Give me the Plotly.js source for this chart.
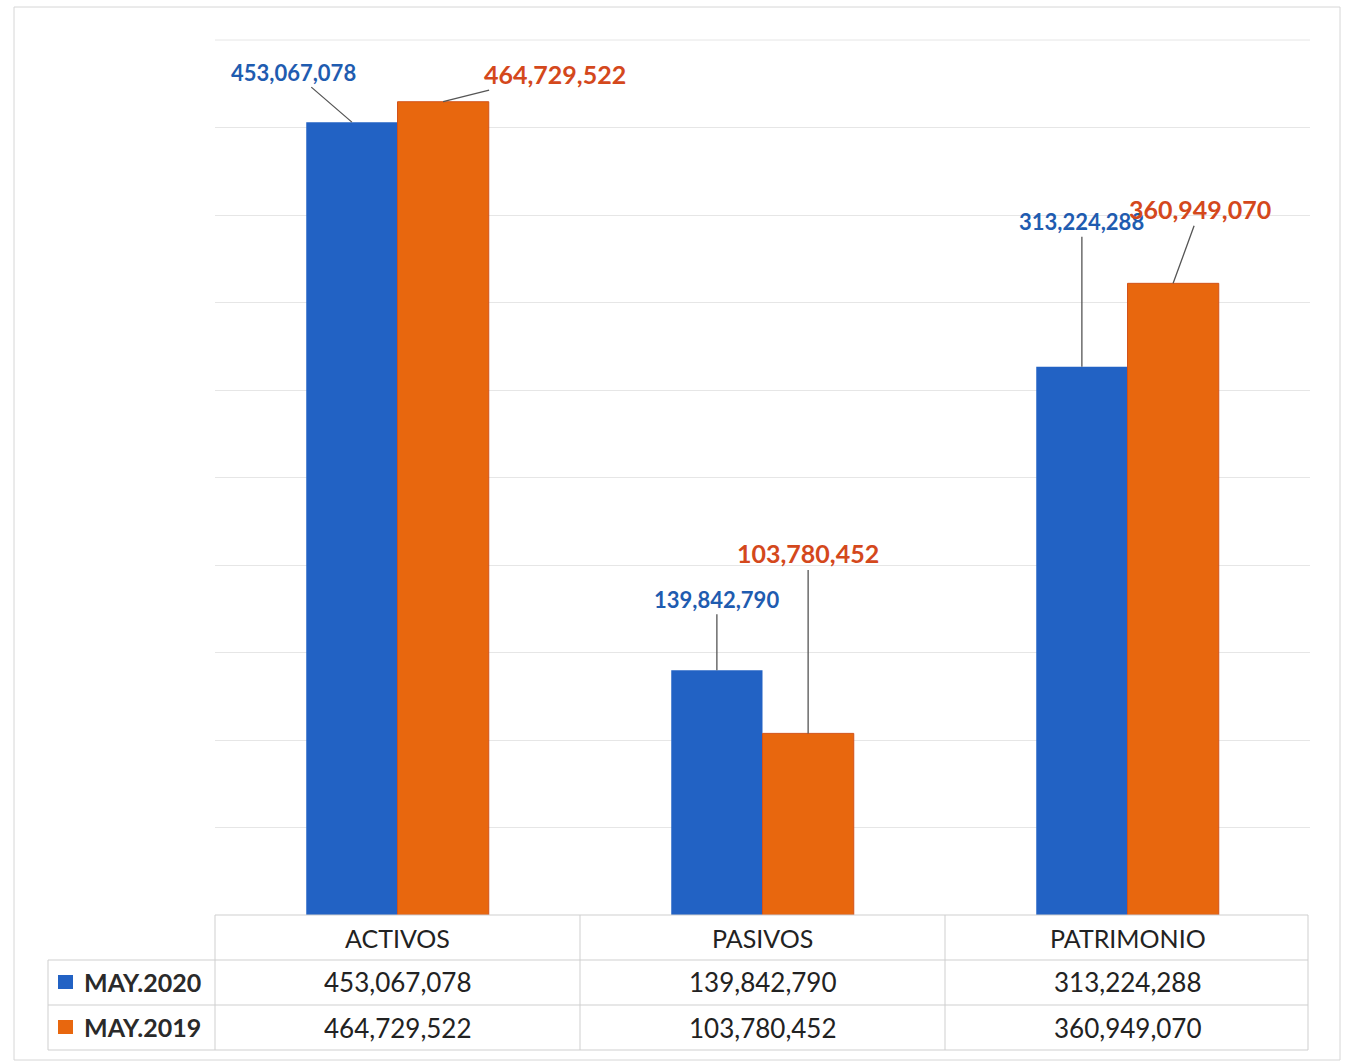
<!DOCTYPE html>
<html><head><meta charset="utf-8">
<script src="https://cdn.plot.ly/plotly-3.0.1.min.js"></script>
<style>html,body{margin:0;padding:0;background:#fff}</style>
</head><body><div id="chart" style="width:1348px;height:1061px"></div>
<script>
const categories = ["ACTIVOS", "PASIVOS", "PATRIMONIO"];
const seriesNames = ["MAY.2020", "MAY.2019"];
const may2020 = [453067078, 139842790, 313224288];
const may2019 = [464729522, 103780452, 360949070];

const blue = "#2262c4", orange = "#e8670e";
const blueText = "#1f5cb0", orangeText = "#d4481c";
const FONT = "Lato, 'Open Sans', sans-serif";

const W = 1348, H = 1061, L = 215, R = 38, T = 40, B = 146;
const PW = W - L - R, PH = H - T - B;
const px = x => (x - L) / PW;
const py = y => (H - B - y) / PH;
const fmt = v => v.toLocaleString("en-US");

const traces = [
  {type: "bar", name: seriesNames[0], x: categories, y: may2020, marker: {color: blue}, hoverinfo: "none"},
  {type: "bar", name: seriesNames[1], x: categories, y: may2019, marker: {color: orange, line: {color: "#d2521a", width: 1}}, hoverinfo: "none"}
];

// label offsets (pixels) for the data labels with leader lines
const offs2020 = [[-58, -50], [0, -71], [0, -145]];
const offs2019 = [[112, -28], [0, -180], [27, -74]];

const annotations = [];
categories.forEach((c, i) => {
  annotations.push({xref: "x", yref: "y", x: i - 0.125, y: may2020[i], text: "<b>" + fmt(may2020[i]) + "</b>",
    showarrow: true, arrowhead: 0, arrowwidth: 1.3, arrowcolor: "#555", ax: offs2020[i][0], ay: offs2020[i][1],
    standoff: 0, font: {family: FONT, size: 22, color: blueText}});
  annotations.push({xref: "x", yref: "y", x: i + 0.125, y: may2019[i], text: "<b>" + fmt(may2019[i]) + "</b>",
    showarrow: true, arrowhead: 0, arrowwidth: 1.3, arrowcolor: "#555", ax: offs2019[i][0], ay: offs2019[i][1],
    standoff: 0, font: {family: FONT, size: 25, color: orangeText}});
  // table
  annotations.push({xref: "x", yref: "paper", x: i, y: py(938), xanchor: "center", yanchor: "middle", text: c, showarrow: false,
    font: {family: FONT, size: 25, color: "#222"}});
  annotations.push({xref: "x", yref: "paper", x: i, y: py(982), xanchor: "center", yanchor: "middle", text: fmt(may2020[i]), showarrow: false,
    font: {family: FONT, size: 26, color: "#222"}});
  annotations.push({xref: "x", yref: "paper", x: i, y: py(1028), xanchor: "center", yanchor: "middle", text: fmt(may2019[i]), showarrow: false,
    font: {family: FONT, size: 26, color: "#222"}});
});
annotations.push({xref: "paper", yref: "paper", x: px(82), y: py(982), xanchor: "left", yanchor: "middle", text: "<b>" + seriesNames[0] + "</b>",
  showarrow: false, font: {family: FONT, size: 25, color: "#2a2a2a"}});
annotations.push({xref: "paper", yref: "paper", x: px(82), y: py(1027), xanchor: "left", yanchor: "middle", text: "<b>" + seriesNames[1] + "</b>",
  showarrow: false, font: {family: FONT, size: 25, color: "#2a2a2a"}});

const lc = "#cfcfcf";
const line = (x0, y0, x1, y1, color, w) => ({type: "line", xref: "paper", yref: "paper",
  x0: px(x0), y0: py(y0), x1: px(x1), y1: py(y1), line: {color: color || lc, width: w || 1}});
const shapes = [
  // outer border
  {type: "rect", xref: "paper", yref: "paper", x0: px(14), y0: py(7), x1: px(1340), y1: py(1060), line: {color: "#d6d6d6", width: 1}},
  // top gridline (range maximum)
  {type: "line", xref: "paper", yref: "paper", x0: 0, x1: 1, y0: 1, y1: 1, line: {color: "#e6e6e6", width: 1}},
  line(215, 915, 1308, 915),
  line(48, 960, 1308, 960),
  line(48, 1005, 1308, 1005),
  line(48, 1050, 1308, 1050),
  line(48, 960, 48, 1050),
  line(215, 915, 215, 1050),
  line(580, 915, 580, 1050),
  line(945, 915, 945, 1050),
  line(1308, 915, 1308, 1050),
  {type: "rect", xref: "paper", yref: "paper", x0: px(58), y0: py(975), x1: px(73), y1: py(989), fillcolor: blue, line: {width: 0}},
  {type: "rect", xref: "paper", yref: "paper", x0: px(58), y0: py(1020), x1: px(73), y1: py(1034), fillcolor: orange, line: {width: 0}}
];

const layout = {
  width: W, height: H,
  margin: {l: L, r: R, t: T, b: B},
  paper_bgcolor: "#fff", plot_bgcolor: "#fff",
  barmode: "group", bargap: 0.5, bargroupgap: 0,
  showlegend: false,
  xaxis: {type: "category", showticklabels: false, showgrid: false, zeroline: false, showline: false, ticks: ""},
  yaxis: {range: [0, 500000000], dtick: 50000000, showticklabels: false, gridcolor: "#e6e6e6", gridwidth: 1,
    zeroline: false, showline: false, ticks: ""},
  annotations: annotations,
  shapes: shapes,
  font: {family: FONT}
};

Plotly.newPlot("chart", traces, layout, {displayModeBar: false, staticPlot: true});
</script>
</body></html>
